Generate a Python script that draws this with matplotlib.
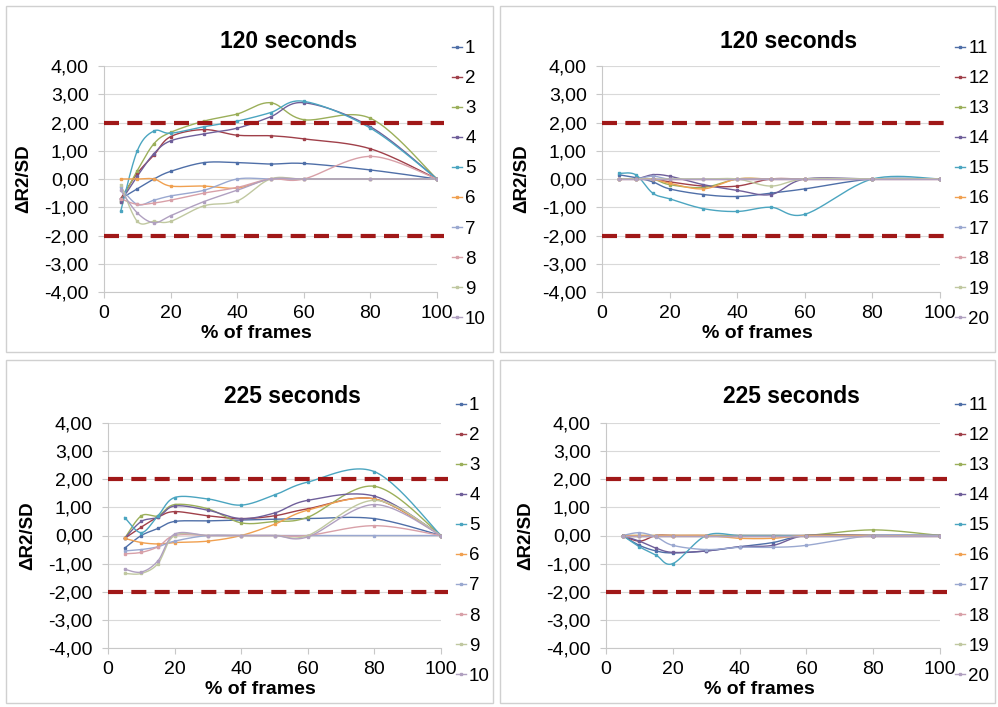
import numpy as np
import matplotlib.pyplot as plt
from matplotlib.lines import Line2D
from matplotlib.ticker import FuncFormatter

plt.rcParams['font.family'] = ['Liberation Sans', 'DejaVu Sans']

W, H = 998, 707

x = np.array([5, 10, 15, 20, 30, 40, 50, 60, 80, 100])

# 120 seconds, series 1-10
a1 = {
    '1': [-0.70, -0.35, 0.00, 0.27, 0.58, 0.58, 0.53, 0.55, 0.32, 0],
    '2': [-0.70, 0.20, 0.85, 1.50, 1.75, 1.55, 1.53, 1.42, 1.07, 0],
    '3': [-0.80, 0.30, 1.25, 1.65, 2.05, 2.30, 2.70, 2.10, 2.15, 0],
    '4': [-0.80, 0.10, 0.90, 1.35, 1.60, 1.80, 2.20, 2.70, 1.85, 0],
    '5': [-1.15, 1.00, 1.70, 1.62, 1.85, 2.05, 2.35, 2.75, 1.80, 0],
    '6': [0.00, 0.00, 0.00, -0.25, -0.25, -0.32, 0.00, 0.00, 0.00, 0],
    '7': [-0.30, -0.90, -0.75, -0.60, -0.40, 0.00, 0.00, 0.00, 0.00, 0],
    '8': [-0.70, -0.90, -0.85, -0.75, -0.50, -0.30, 0.00, 0.00, 0.80, 0],
    '9': [-0.20, -1.50, -1.50, -1.50, -0.95, -0.78, 0.00, 0.00, 0.00, 0],
    '10': [-0.40, -1.20, -1.55, -1.30, -0.80, -0.40, 0.00, 0.00, 0.00, 0],
}

# 120 seconds, series 11-20
a2 = {
    '11': [0.15, 0.05, -0.10, -0.35, -0.55, -0.62, -0.50, -0.35, 0.00, 0],
    '12': [0.00, 0.00, 0.00, -0.10, -0.25, -0.25, 0.00, 0.00, 0.00, 0],
    '13': [0.00, 0.00, 0.00, -0.20, -0.30, 0.00, 0.00, 0.00, 0.00, 0],
    '14': [0.00, 0.00, 0.15, 0.10, -0.20, -0.40, -0.55, 0.00, 0.00, 0],
    '15': [0.20, 0.15, -0.50, -0.70, -1.05, -1.15, -1.00, -1.25, 0.00, 0],
    '16': [0.00, 0.00, 0.00, -0.15, -0.35, 0.00, 0.00, 0.00, 0.00, 0],
    '17': [0.00, 0.00, 0.10, 0.00, 0.00, 0.00, 0.00, 0.00, 0.00, 0],
    '18': [0.00, 0.00, 0.00, 0.00, 0.00, 0.00, 0.00, 0.00, 0.00, 0],
    '19': [0.00, 0.00, 0.00, 0.00, 0.00, 0.00, -0.25, 0.00, 0.00, 0],
    '20': [0.00, 0.00, 0.00, 0.00, 0.00, 0.00, 0.00, 0.00, 0.00, 0],
}

# 225 seconds, series 1-10
a3 = {
    '1': [-0.45, 0.00, 0.25, 0.50, 0.52, 0.55, 0.58, 0.60, 0.60, 0],
    '2': [-0.10, 0.30, 0.65, 0.85, 0.70, 0.60, 0.70, 0.95, 1.30, 0],
    '3': [-0.10, 0.70, 0.70, 1.10, 0.95, 0.45, 0.50, 0.65, 1.75, 0],
    '4': [-0.10, 0.50, 0.65, 1.05, 0.90, 0.60, 0.80, 1.25, 1.40, 0],
    '5': [0.64, 0.10, 0.70, 1.35, 1.30, 1.08, 1.44, 1.90, 2.27, 0],
    '6': [-0.10, -0.25, -0.30, -0.25, -0.20, 0.00, 0.40, 0.90, 1.30, 0],
    '7': [-0.55, -0.50, -0.40, -0.20, 0.00, 0.00, 0.00, 0.00, 0.00, 0],
    '8': [-0.65, -0.60, -0.40, 0.00, 0.00, 0.00, 0.00, 0.00, 0.35, 0],
    '9': [-1.35, -1.35, -1.00, 0.00, 0.00, 0.00, 0.00, 0.00, 1.25, 0],
    '10': [-1.20, -1.30, -0.90, 0.05, 0.00, 0.00, 0.00, -0.05, 1.10, 0],
}

# 225 seconds, series 11-20
a4 = {
    '11': [0.00, -0.35, -0.55, -0.62, -0.55, -0.40, -0.25, 0.00, 0.00, 0],
    '12': [0.00, -0.20, 0.00, 0.00, 0.00, 0.00, 0.00, 0.00, 0.00, 0],
    '13': [0.00, 0.00, 0.00, 0.00, 0.00, 0.00, 0.00, 0.00, 0.20, 0],
    '14': [0.00, -0.20, -0.45, -0.60, -0.55, -0.40, -0.35, 0.00, 0.00, 0],
    '15': [0.00, -0.40, -0.70, -1.00, 0.00, 0.00, 0.00, 0.00, 0.00, 0],
    '16': [0.00, 0.00, 0.00, 0.00, 0.00, -0.10, -0.10, 0.00, 0.00, 0],
    '17': [0.00, 0.10, -0.05, -0.35, -0.50, -0.42, -0.42, -0.35, 0.00, 0],
    '18': [0.00, 0.00, 0.00, 0.00, 0.00, 0.00, 0.00, 0.00, 0.00, 0],
    '19': [0.00, 0.00, 0.00, 0.00, 0.00, 0.00, 0.00, 0.00, 0.00, 0],
    '20': [0.00, 0.00, 0.00, 0.00, 0.00, 0.00, 0.00, 0.00, 0.00, 0],
}

colors = ['#4F6FA8', '#A0404A', '#9BAF5A', '#6F5F9A', '#4BA5C0',
          '#F0A050', '#9AA8D0', '#D8A0A8', '#C0C8A0', '#B0A0C0']


def smooth(xs, ys, n=25):
    # excel-like smoothed line (bezier through the points)
    P = np.column_stack([np.asarray(xs) * 3.34, np.asarray(ys) * 28.4])
    segs = []
    t = np.linspace(0, 1, n)[:, None]
    for i in range(len(P) - 1):
        p0 = P[i - 1] if i > 0 else P[i]
        p1, p2 = P[i], P[i + 1]
        p3 = P[i + 2] if i + 2 < len(P) else P[i + 1]
        c1 = p1 + (p2 - p0) / 6
        c2 = p2 - (p3 - p1) / 6
        segs.append((1 - t) ** 3 * p1 + 3 * (1 - t) ** 2 * t * c1
                    + 3 * (1 - t) * t ** 2 * c2 + t ** 3 * p2)
    out = np.vstack(segs)
    return out[:, 0] / 3.34, out[:, 1] / 28.4


fig = plt.figure(figsize=(W / 100, H / 100), dpi=100)

# panel frames
for (l, t, r, b) in [(6, 6, 493, 352), (500, 6, 995, 352),
                     (6, 360, 493, 703), (500, 360, 995, 703)]:
    fig.patches.append(plt.Rectangle((l / W, 1 - b / H), (r - l) / W, (b - t) / H,
                                     transform=fig.transFigure, fill=False,
                                     ec='#d0d0d0', lw=1))

panels = [
    (a1, '120 seconds', 104, 437, 66, 292, 42),
    (a2, '120 seconds', 602, 940, 66, 292, 42),
    (a3, '225 seconds', 108, 441, 423, 648, 397),
    (a4, '225 seconds', 606, 940, 423, 648, 397),
]

fmt = FuncFormatter(lambda v, p: f'{v:.2f}'.replace('.', ','))

for data, title, x0, x1, y0, y1, ty in panels:
    ax = fig.add_axes([x0 / W, 1 - y1 / H, (x1 - x0) / W, (y1 - y0) / H])
    ax.set_xlim(0, 100)
    ax.set_ylim(-4, 4)
    ax.set_xticks([0, 20, 40, 60, 80, 100])
    ax.set_yticks(range(-4, 5))
    ax.yaxis.set_major_formatter(fmt)
    ax.grid(axis='y', color='#d9d9d9', lw=0.8)
    ax.set_axisbelow(True)
    for s in ['top', 'right']:
        ax.spines[s].set_visible(False)
    for s in ['left', 'bottom']:
        ax.spines[s].set_color('#c8c8c8')
    ax.tick_params(colors='#c8c8c8', labelcolor='black', labelsize=14, length=4)
    ax.tick_params(axis='x', pad=5)
    ax.tick_params(axis='y', pad=7)

    handles = []
    for (name, vals), c in zip(data.items(), colors):
        sx, sy = smooth(x, vals)
        ax.plot(sx, sy, color=c, lw=1.0, zorder=3)
        ax.plot(x, vals, 's', color=c, ms=1.8, zorder=4)
        handles.append(Line2D([], [], color=c, lw=1.0, marker='s', ms=1.8))

    for yv in (2, -2):
        ax.plot([0, 102], [yv, yv], color='#A01818', lw=3, dashes=(3.6, 2),
                clip_on=False, zorder=5)

    cx = (x0 + x1) / 2
    fig.text((cx + 18) / W, 1 - ty / H, title, ha='center', va='center',
             fontsize=16.5, fontweight='bold')
    fig.text((x0 - 80) / W, 1 - (y0 + y1) / 2 / H, 'ΔR2/SD', rotation=90,
             ha='center', va='center', fontsize=13.5, fontweight='bold')
    fig.text((cx - 14) / W, 1 - (y1 + 42) / H, '% of frames', ha='center',
             va='center', fontsize=14, fontweight='bold')

    leg = ax.legend(handles=handles, labels=list(data.keys()),
                    loc='upper left', bbox_to_anchor=((x1 + 15) / W, 1 - (y0 - 26) / H),
                    bbox_transform=fig.transFigure, frameon=False,
                    fontsize=13.5, handlelength=0.55, handletextpad=0.15,
                    labelspacing=0.69, borderpad=0, borderaxespad=0)

fig.savefig('out.png', dpi=100)
